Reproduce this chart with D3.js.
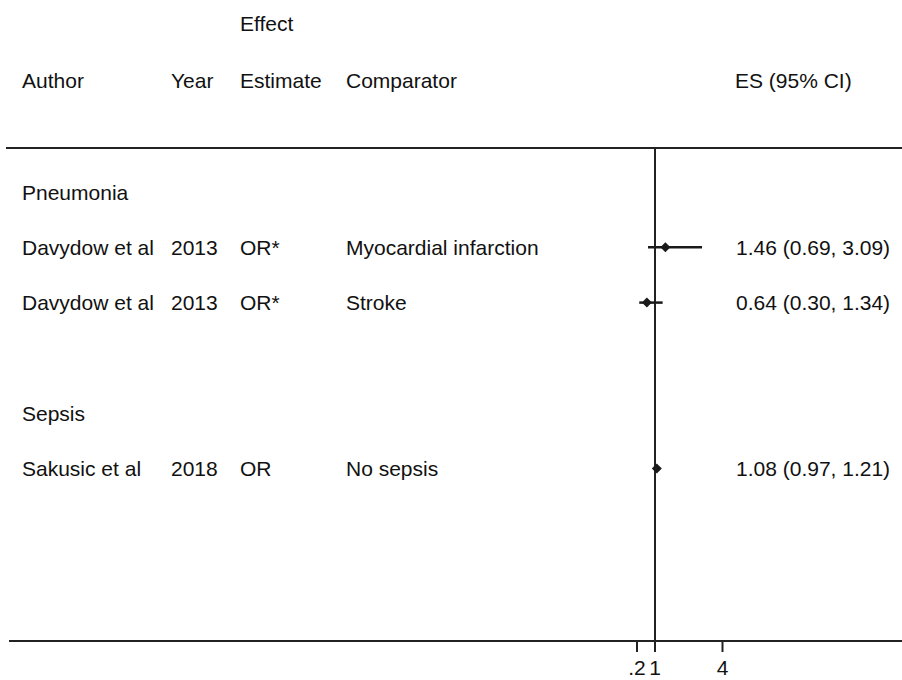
<!DOCTYPE html>
<html><head><meta charset="utf-8">
<script src="https://cdn.jsdelivr.net/npm/d3@7"></script>
<style>body{margin:0;background:#fff}svg{display:block}text{font-family:"Liberation Sans",Arial,sans-serif;font-size:21px;fill:#111}</style>
</head><body><svg id="c" width="902" height="680"></svg>
<script>
// Data
const authors = ["Davydow et al", "Davydow et al", "Sakusic et al"];
const years = ["2013", "2013", "2018"];
const estimates = ["OR*", "OR*", "OR"];
const comparators = ["Myocardial infarction", "Stroke", "No sepsis"];
const groups = ["Pneumonia", "Pneumonia", "Sepsis"];
const es = [1.46, 0.64, 1.08];
const lo = [0.69, 0.30, 0.97];
const hi = [3.09, 1.34, 1.21];
const xTicks = [0.2, 1, 4];
const xTickLabels = [".2", "1", "4"];
const groupNames = ["Pneumonia", "Sepsis"];

// Build row layout: group header, studies, blank line
const rows = [];
groupNames.forEach(g => {
  rows.push({type: "group", label: g});
  groups.forEach((gg, i) => { if (gg === g) rows.push({type: "study", i}); });
  rows.push({type: "blank"});
});
rows.push({type: "blank"});

const svg = d3.select("#c");
const x = d3.scaleLinear().domain([0, 4]).range([632.5, 722.5]);
const y = d3.scaleLinear().domain([0, 1]).range([192, 247.3]);
const col = "#1a1a1a";
const off = 7.5;

// headers
svg.append("text").attr("x", 240).attr("y", 31).text("Effect");
[["Author",22],["Year",171],["Estimate",240],["Comparator",346],["ES (95% CI)",735]].forEach(([t,xx])=>{
  svg.append("text").attr("x", xx).attr("y", 88).text(t);
});

// top rule and axis line
svg.append("line").attr("x1", 6).attr("x2", 902).attr("y1", 148).attr("y2", 148).attr("stroke", "#222").attr("stroke-width", 2);
svg.append("line").attr("x1", 9).attr("x2", 902).attr("y1", 641).attr("y2", 641).attr("stroke", "#222").attr("stroke-width", 2);
// null line
svg.append("line").attr("x1", x(1)).attr("x2", x(1)).attr("y1", 148).attr("y2", 641).attr("stroke", "#222").attr("stroke-width", 2);

// axis ticks
const ax = svg.append("g");
xTicks.forEach((t, k) => {
  ax.append("line").attr("x1", x(t)).attr("x2", x(t)).attr("y1", 641).attr("y2", 652).attr("stroke", "#222").attr("stroke-width", 2);
  ax.append("text").attr("x", x(t)).attr("y", 675).attr("text-anchor", "middle").text(xTickLabels[k]);
});

// rows
rows.forEach((r, idx) => {
  const yy = y(idx);
  if (r.type === "group") {
    svg.append("text").attr("x", 22).attr("y", yy + off).text(r.label);
  } else if (r.type === "study") {
    const i = r.i;
    svg.append("text").attr("x", 22).attr("y", yy + off).text(authors[i]);
    svg.append("text").attr("x", 171).attr("y", yy + off).text(years[i]);
    svg.append("text").attr("x", 240).attr("y", yy + off).text(estimates[i]);
    svg.append("text").attr("x", 346).attr("y", yy + off).text(comparators[i]);
    svg.append("text").attr("x", 736).attr("y", yy + off).text(
      `${es[i].toFixed(2)} (${lo[i].toFixed(2)}, ${hi[i].toFixed(2)})`);
    svg.append("line").attr("x1", x(lo[i])).attr("x2", x(hi[i])).attr("y1", yy).attr("y2", yy)
      .attr("stroke", col).attr("stroke-width", 2.5);
    const cx = x(es[i]), d = 5;
    svg.append("path").attr("d", `M${cx-d},${yy}L${cx},${yy-d}L${cx+d},${yy}L${cx},${yy+d}Z`).attr("fill", col);
  }
});
</script></body></html>
